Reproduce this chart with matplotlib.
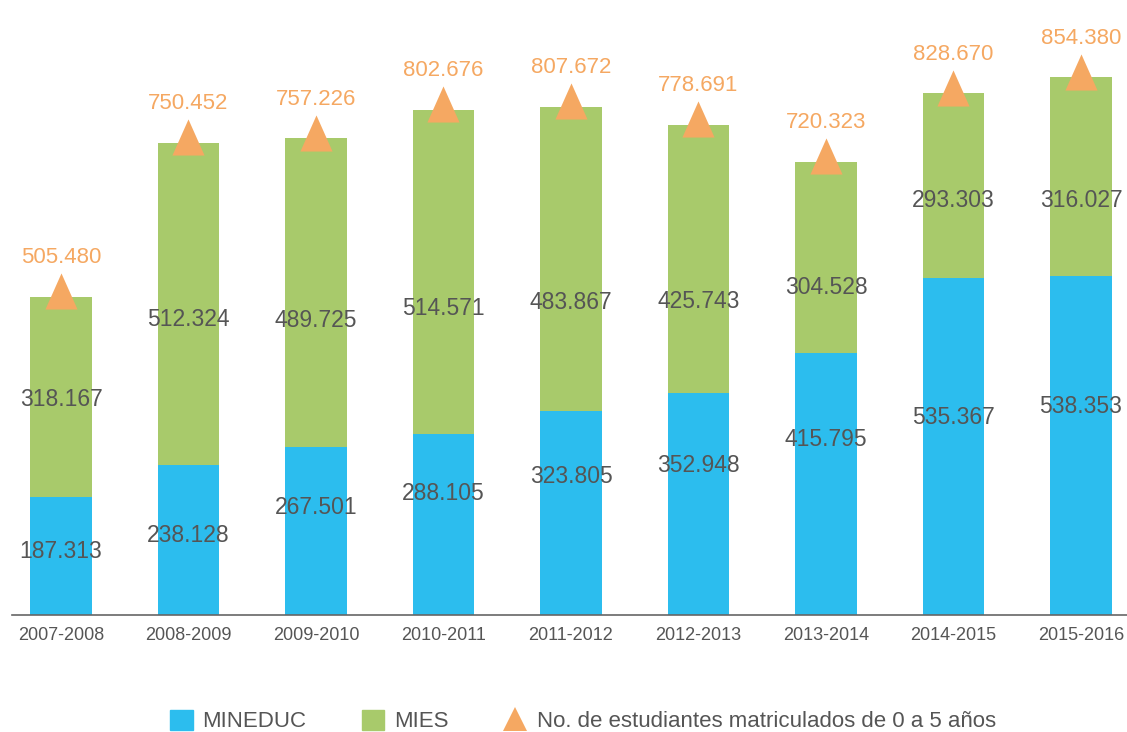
import matplotlib as mpl

mpl.use('agg')

import matplotlib.pyplot as plt
from matplotlib.patches import Rectangle
from matplotlib.lines import Line2D
from matplotlib.path import Path
from matplotlib.markers import MarkerStyle
import matplotlib.transforms as mtransforms

plt.rcParams['font.family'] = ['Liberation Sans', 'DejaVu Sans']

periods = ["2007-2008", "2008-2009", "2009-2010", "2010-2011", "2011-2012",
           "2012-2013", "2013-2014", "2014-2015", "2015-2016"]
mineduc = [187313, 238128, 267501, 288105, 323805, 352948, 415795, 535367, 538353]
mies = [318167, 512324, 489725, 514571, 483867, 425743, 304528, 293303, 316027]
totals = [505480, 750452, 757226, 802676, 807672, 778691, 720323, 828670, 854380]

# where the value labels sit inside each segment (fraction of the segment)
mineduc_lab_frac = [0.54, 0.53, 0.64, 0.67, 0.68, 0.675, 0.67, 0.585, 0.615]
mies_lab_frac = [0.485, 0.45, 0.41, 0.385, 0.358, 0.339, 0.345, 0.417, 0.378]

blue = '#2cbdee'
green = '#a8ca6b'
orange = '#f5a862'
grey = '#555555'


def fmt(v):
    return "{:,}".format(v).replace(",", ".")


fig = plt.figure(figsize=(11.27, 7.32), dpi=100)
ax = fig.add_axes([12 / 1127, 117 / 732, 1 - 12 / 1127, 615 / 732])

x = list(range(len(periods)))
ax.bar(x, mineduc, width=0.48, color=blue)
ax.bar(x, mies, width=0.48, bottom=mineduc, color=green)

tri_path = Path([(0, 1), (-0.89, -1), (0.89, -1), (0, 1)],
                [Path.MOVETO, Path.LINETO, Path.LINETO, Path.CLOSEPOLY])
shift = mtransforms.offset_copy(ax.transData, fig=fig, x=0, y=4, units='points')
ax.plot(x, totals, linestyle='none', marker=MarkerStyle(tri_path), markersize=26,
        color=orange, markeredgewidth=0, transform=shift, zorder=3)

for i in x:
    ax.annotate(fmt(totals[i]), (i, totals[i]), xytext=(0, 28),
                textcoords='offset points', ha='center', va='center',
                color=orange, fontsize=16)
    ax.text(i, mineduc[i] * mineduc_lab_frac[i], fmt(mineduc[i]),
            ha='center', va='center', color=grey, fontsize=16.5)
    ax.text(i, mineduc[i] + mies[i] * mies_lab_frac[i], fmt(mies[i]),
            ha='center', va='center', color=grey, fontsize=16.5)

ax.set_xlim(-49 / 127.5, (1127 - 61) / 127.5)
ax.set_ylim(0, 615 / 0.6295 * 1000)
ax.set_xticks(x)
ax.set_xticklabels(periods, fontsize=13, color=grey)
ax.tick_params(axis='x', length=0, pad=9)
ax.set_yticks([])
for s in ['top', 'right', 'left']:
    ax.spines[s].set_visible(False)
ax.spines['bottom'].set_color('#666666')
ax.spines['bottom'].set_linewidth(1.2)

handles = [Rectangle((0, 0), 1, 1, color=blue),
           Rectangle((0, 0), 1, 1, color=green),
           Line2D([], [], linestyle='none', marker='^', markersize=17,
                  color=orange, markeredgewidth=0)]
labels = ["MINEDUC", "MIES", "No. de estudiantes matriculados de 0 a 5 años"]
leg = fig.legend(handles, labels, loc='center', bbox_to_anchor=(583 / 1127, 11 / 732),
                 ncol=3, frameon=False, fontsize=16, handlelength=1.0,
                 handleheight=1.0, handletextpad=0.45, columnspacing=2.5)
for t in leg.get_texts():
    t.set_color(grey)

fig.savefig('out.png', dpi=100)
